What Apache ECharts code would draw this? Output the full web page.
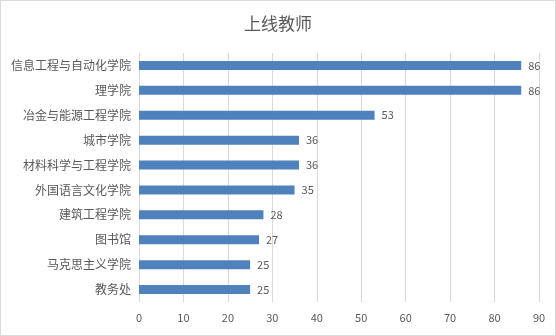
<!DOCTYPE html>
<html>
<head>
  <title>上线教师</title>
  <script src="https://cdn.jsdelivr.net/npm/echarts@6/dist/echarts.min.js"></script>
  <style>
    html, body { margin: 0; padding: 0; background: #fff; }
    #main {
      width: 556px;
      height: 336px;
      box-sizing: border-box;
      border: 1px solid #d9d9d9;
    }
  </style>
</head>
<body>
  <div id="main"></div>
  <script>
    // 从下往上排列（category 轴从底部开始）
    var categories = ['教务处', '马克思主义学院', '图书馆', '建筑工程学院', '外国语言文化学院', '材料科学与工程学院', '城市学院', '冶金与能源工程学院', '理学院', '信息工程与自动化学院'];
    var teachers = [25, 25, 27, 28, 35, 36, 36, 53, 86, 86];

    var myChart = echarts.init(document.getElementById('main'));
    var font = 'Microsoft YaHei, "Noto Sans CJK SC", sans-serif';
    var option = {
      animation: false,
      title: {
        text: '上线教师',
        left: 'center',
        top: 9,
        textStyle: { color: '#595959', fontSize: 17, fontWeight: 'normal', fontFamily: font }
      },
      grid: { left: 138, right: 16, top: 52, bottom: 33 },
      xAxis: {
        type: 'value',
        min: 0,
        max: 90,
        interval: 10,
        axisLine: { show: false },
        axisTick: { show: false },
        axisLabel: { color: '#595959', fontSize: 11, fontFamily: font, margin: 10 },
        splitLine: { lineStyle: { color: '#d9d9d9' } }
      },
      yAxis: {
        type: 'category',
        data: categories,
        axisLine: { show: false },
        axisTick: { show: false },
        axisLabel: { color: '#595959', fontSize: 12, fontFamily: font, margin: 8 }
      },
      series: [{
        name: '上线教师',
        type: 'bar',
        data: teachers,
        barWidth: 9,
        itemStyle: { color: '#4f81bd' },
        label: { show: true, position: 'right', distance: 7, color: '#595959', fontSize: 11, fontFamily: font }
      }]
    };
    myChart.setOption(option);
  </script>
</body>
</html>
